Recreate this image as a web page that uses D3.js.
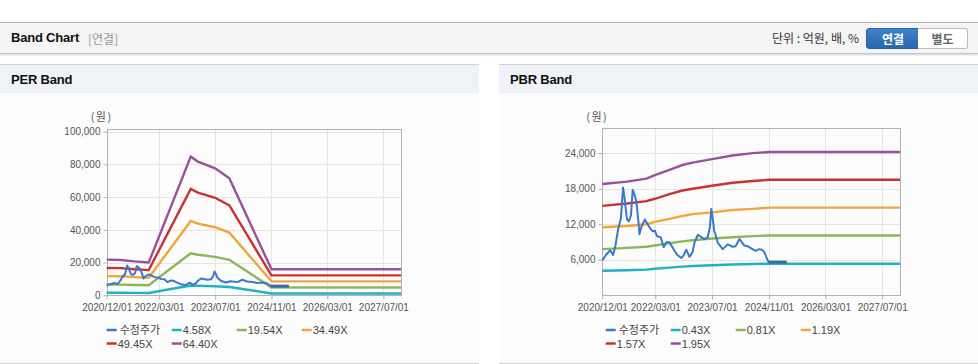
<!DOCTYPE html>
<html>
<head>
<meta charset="utf-8">
<script src="https://cdn.jsdelivr.net/npm/d3@7"></script>
<style>
  body { margin: 0; width: 978px; height: 364px; background: #fff; position: relative; overflow: hidden;
         font-family: "Liberation Sans", "Noto Sans CJK KR", sans-serif; }
  .topbar { position: absolute; left: 0; top: 22px; width: 978px; height: 30px; background: #f4f4f4;
            border-top: 1px solid #b4b4b4; border-bottom: 1px solid #c4c4c4; box-shadow: 0 1px 2px rgba(0,0,0,0.18); }
  .title { position: absolute; left: 11px; top: 7px; font-size: 13px; font-weight: bold; color: #111; letter-spacing: -0.2px; }
  .sub { position: absolute; left: 88px; top: 8px; font-size: 12px; color: #999; font-family: "Noto Sans CJK KR", sans-serif; line-height: 15px; }
  .unit { position: absolute; right: 119px; top: 7px; font-size: 12px; color: #333; font-family: "Noto Sans CJK KR", sans-serif; line-height: 16px; }
  .btn { position: absolute; top: 5px; height: 19px; font-size: 12px; font-weight: bold; line-height: 19px; text-align: center;
         font-family: "Noto Sans CJK KR", sans-serif; }
  .b1 { left: 866px; width: 52px; background: linear-gradient(#3f80c6, #2c68ad); color: #fff; border: 1px solid #2c63a4; border-radius: 3px 0 0 3px; }
  .b2 { left: 918px; width: 49px; background: #fff; color: #666; border: 1px solid #bbb; border-left: none; border-radius: 0 3px 3px 0; }
  .panel { position: absolute; top: 64px; height: 298px; background: #fcfcfc; border-top: 1px solid #d2d2d2; border-bottom: 1px solid #d2d2d2; }
  .phead { height: 28px; background: #eff2f7; }
  .phead span { position: absolute; left: 11px; top: 7px; font-size: 13px; font-weight: bold; color: #111; letter-spacing: -0.2px; }
  svg { position: absolute; left: 0; top: 0; }
</style>
</head>
<body>
<div class="topbar">
  <div class="title">Band Chart</div>
  <div class="sub">[연결]</div>
  <div class="unit">단위 : 억원, 배, %</div>
  <div class="btn b1">연결</div>
  <div class="btn b2">별도</div>
</div>
<div class="panel" style="left:0;width:479px"><div class="phead"><span>PER Band</span></div></div>
<div class="panel" style="left:499px;width:479px"><div class="phead"><span>PBR Band</span></div></div>
<svg id="chart" width="978" height="364"></svg>
<script>
// x axis tick labels (both charts)
const tickDates = ["2020-12-01", "2022-03-01", "2023-07-01", "2024-11-01", "2026-03-01", "2027-07-01"];

// 수정주가 (adjusted price), shared by both charts
const priceDates = ["2020-12-01","2021-01-01","2021-02-07","2021-03-04","2021-03-25","2021-04-16","2021-05-10","2021-05-28",
  "2021-06-10","2021-06-19","2021-07-01","2021-07-16","2021-08-04","2021-08-19","2021-08-28","2021-09-19","2021-10-07",
  "2021-10-16","2021-11-01","2021-12-01","2022-01-13","2022-02-07","2022-02-25","2022-03-16","2022-04-16","2022-05-12",
  "2022-06-07","2022-07-01","2022-08-10","2022-09-07","2022-10-10","2022-11-01","2022-11-22","2022-12-19","2023-01-13",
  "2023-02-01","2023-03-01","2023-03-25","2023-04-25","2023-05-25","2023-06-13","2023-06-25","2023-07-04","2023-07-19",
  "2023-08-19","2023-10-01","2023-11-13","2023-12-25","2024-01-19","2024-02-22","2024-04-04","2024-05-01","2024-06-13",
  "2024-07-07","2024-08-10","2024-09-01","2024-09-19","2024-10-28","2025-04-01"];
const priceValues = [5900,6800,7600,6800,8500,11200,13000,18200,
  16500,14800,12800,12500,13500,17800,17400,15900,12500,
  10300,11500,12800,11400,10800,10900,10000,9800,8100,
  9000,8900,7600,6800,6300,6800,7700,6500,7200,
  8900,10200,9900,9500,9800,11500,14600,13500,11000,
  8900,7800,8600,8200,8300,9500,8400,8300,7800,
  7500,7800,7700,7400,5600,5600];

// PER band
const perNames = ["수정주가", "4.58X", "19.54X", "34.49X", "49.45X", "64.40X"];
const perBandDates = ["2020-12-01","2021-04-01","2021-08-01","2021-12-01","2022-12-01","2023-02-01","2023-07-01","2023-11-01","2024-11-01","2027-12-01"];
const per458 = [1550,1540,1470,1420,6000,5800,5500,5100,1130,1130];
const per1954 = [6600,6550,6300,6100,25700,24800,23500,21700,4800,4800];
const per3449 = [11700,11600,11100,10700,45400,43800,41600,38300,8500,8500];
const per4945 = [16700,16600,15900,15400,65000,62700,59600,54900,12200,12200];
const per6440 = [21800,21600,20700,20000,84700,81700,77600,71500,15900,15900];
const perTicks = [0, 20000, 40000, 60000, 80000, 100000];

// PBR band
const pbrNames = ["수정주가", "0.43X", "0.81X", "1.19X", "1.57X", "1.95X"];
const pbrBandDates = ["2020-12-01","2021-07-01","2021-12-15","2022-02-25","2022-07-01","2022-10-20","2023-01-15","2023-07-01","2023-12-25","2024-06-15","2024-11-01","2027-12-01"];
const pbr043 = [4150,4230,4340,4480,4670,4850,4940,5070,5200,5290,5340,5340];
const pbr081 = [7800,8000,8200,8400,8800,9100,9300,9600,9800,10000,10100,10100];
const pbr119 = [11500,11700,12000,12400,12900,13400,13700,14000,14400,14600,14800,14800];
const pbr157 = [15100,15500,15900,16300,17100,17700,18000,18500,19000,19300,19500,19500];
const pbr195 = [18800,19200,19700,20300,21200,22000,22400,23000,23600,24000,24200,24200];
const pbrTicks = [6000, 12000, 18000, 24000];

const colors = ["#3a78c9", "#1fb1c6", "#8db65a", "#f2a53b", "#c93232", "#98519b"];

const parse = d3.timeParse("%Y-%m-%d");
const svg = d3.select("#chart");

function drawChart(o) {
  const x = d3.scaleTime().domain([parse("2020-12-01"), parse("2027-12-01")]).range([o.left, o.right]);
  const y = d3.scaleLinear().domain([0, o.yMax]).range([o.bottom, o.top]);
  const g = svg.append("g");

  // grid
  g.selectAll(".vg").data(tickDates.slice(1)).enter().append("line")
    .attr("x1", d => Math.round(x(parse(d))) + 0.5).attr("x2", d => Math.round(x(parse(d))) + 0.5)
    .attr("y1", o.top).attr("y2", o.bottom).attr("stroke", "#e4e4e4");
  g.selectAll(".hg").data(o.ticks.filter(t => t > 0)).enter().append("line")
    .attr("x1", o.left).attr("x2", o.right)
    .attr("y1", d => Math.round(y(d)) + 0.5).attr("y2", d => Math.round(y(d)) + 0.5).attr("stroke", "#e4e4e4");
  g.append("rect").attr("x", Math.round(o.left) + 0.5).attr("y", Math.round(o.top) + 0.5)
    .attr("width", Math.round(o.right - o.left)).attr("height", Math.round(o.bottom - o.top))
    .attr("fill", "none").attr("stroke", "#b2b2b2");

  // axes
  const xa = g.append("g").attr("transform", `translate(0,${Math.round(o.bottom) + 0.5})`)
    .call(d3.axisBottom(x).tickValues(tickDates.map(parse)).tickFormat(d3.timeFormat("%Y/%m/%d")).tickSize(4).tickPadding(4));
  const ya = g.append("g").attr("transform", `translate(${Math.round(o.left) + 0.5},0)`)
    .call(d3.axisLeft(y).tickValues(o.ticks).tickFormat(d3.format(",")).tickSize(4).tickPadding(3));
  [xa, ya].forEach(a => {
    a.select(".domain").remove();
    a.selectAll("line").attr("stroke", "#b2b2b2");
    a.selectAll("text").attr("fill", "#555").style("font-size", "10px").style("font-family", "Liberation Sans");
  });

  g.append("text").attr("x", o.left - 5).attr("y", 121).attr("text-anchor", "middle")
    .attr("fill", "#555").style("font-size", "11px").style("letter-spacing", "1.5px")
    .style("font-family", "Noto Sans CJK KR").text("(원)");

  // bands
  const line = d3.line().x(d => x(d[0])).y(d => y(d[1]));
  o.bands.forEach((vals, i) => {
    const pts = o.bandDates.map((d, j) => [parse(d), vals[j]]);
    g.append("path").datum(pts).attr("d", line).attr("fill", "none")
      .attr("stroke", colors[i + 1]).attr("stroke-width", 2.4);
  });

  // price
  const pp = priceDates.map((d, j) => [parse(d), priceValues[j]]);
  g.append("path").datum(pp).attr("d", line).attr("fill", "none")
    .attr("stroke", colors[0]).attr("stroke-width", 2).attr("stroke-linejoin", "round");
  g.append("path").datum(pp.slice(-2)).attr("d", line).attr("fill", "none")
    .attr("stroke", "#3a6aa6").attr("stroke-width", 3);

  // legend
  o.names.forEach((n, i) => {
    const lx = o.legendX + (i % 4) * 65;
    const ly = 330 + Math.floor(i / 4) * 13.5;
    g.append("line").attr("x1", lx).attr("x2", lx + 10).attr("y1", ly).attr("y2", ly)
      .attr("stroke", colors[i]).attr("stroke-width", 2.5);
    g.append("text").attr("x", lx + (i === 0 ? 13 : 11)).attr("y", ly + 4)
      .attr("fill", "#444").style("font-size", "11px")
      .style("font-family", i === 0 ? "Noto Sans CJK KR" : "Liberation Sans").text(n);
  });
}

drawChart({
  left: 106.7, right: 401, top: 129, bottom: 295.3, yMax: 101600, ticks: perTicks,
  bandDates: perBandDates, bands: [per458, per1954, per3449, per4945, per6440],
  names: perNames, legendX: 106.7
});
drawChart({
  left: 602.3, right: 900, top: 128.3, bottom: 295.3, yMax: 28200, ticks: pbrTicks,
  bandDates: pbrBandDates, bands: [pbr043, pbr081, pbr119, pbr157, pbr195],
  names: pbrNames, legendX: 605.7
});
</script>
</body>
</html>
